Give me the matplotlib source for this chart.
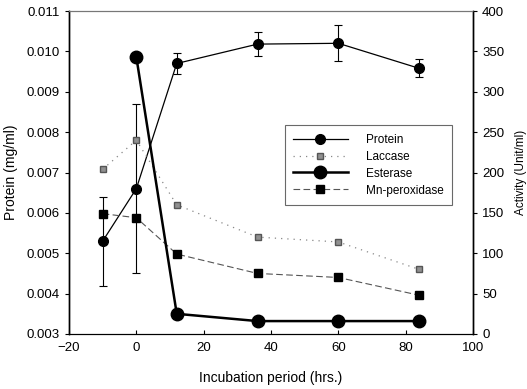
import numpy as np
import matplotlib
matplotlib.use("Agg")
import matplotlib.pyplot as plt
from matplotlib.lines import Line2D

plt.rcParams["font.family"] = ["Liberation Sans", "DejaVu Sans"]

hours = [-10, 0, 12, 36, 60, 84]
protein = [0.0053, 0.0066, 0.0097, 0.01018, 0.0102, 0.00958]
protein_err = [0.0011, 0.0021, 0.00027, 0.0003, 0.00045, 0.00022]

ester_hours = [0, 12, 36, 60, 84]
esterase = [343, 25, 16, 16, 16]
laccase = [204, 240, 160, 120, 114, 80]
mn_peroxidase = [149, 144, 99, 75, 70, 48]

fig = plt.figure(figsize=(5.27, 3.89), dpi=100)
ax = fig.add_axes([69 / 527, 1 - 334 / 389, 404 / 527, 323 / 389])
ax2 = ax.twinx()

ax.errorbar(hours, protein, yerr=protein_err, color="black", lw=0.9,
            marker="o", ms=7, capsize=3, elinewidth=0.8, capthick=0.8,
            zorder=5)
ax2.plot(hours, laccase, color="#888888", ls=(0, (1, 4)), lw=0.9,
         marker="s", ms=5, mfc="#909090", mec="#555555")
ax2.plot(hours, mn_peroxidase, color="#555555", ls=(0, (6, 3)), lw=0.8,
         marker="s", ms=6, mfc="black", mec="black")
ax2.plot(ester_hours, esterase, color="black", lw=1.8,
         marker="o", ms=9, mfc="black", mec="black")

ax.set_xlim(-20, 100)
ax.set_ylim(0.003, 0.011)
ax2.set_ylim(0, 400)
ax.set_xticks(np.arange(-20, 101, 20))
ax.set_yticks(np.arange(0.003, 0.0111, 0.001))
ax.yaxis.set_major_formatter(matplotlib.ticker.FormatStrFormatter("%.3f"))
ax2.set_yticks(np.arange(0, 401, 50))

ax.tick_params(axis="x", direction="in", length=3, labelsize=9.5, pad=6)
ax.tick_params(axis="y", direction="out", length=3, labelsize=9.5)
ax2.tick_params(axis="y", direction="out", length=3, labelsize=9.5)

for a in (ax, ax2):
    a.spines["top"].set_color("#777777")
    a.spines["top"].set_linestyle((0, (3, 1)))
    a.spines["top"].set_linewidth(0.8)
    a.spines["bottom"].set_linewidth(0.8)
    a.spines["left"].set_linewidth(1.0)
    a.spines["right"].set_linewidth(1.0)

ax.set_xlabel("Incubation period (hrs.)", fontsize=10, labelpad=12)
ax.set_ylabel("Protein (mg/ml)", fontsize=10, labelpad=6)
ax2.set_ylabel("Activity (Unit/ml)", fontsize=8.5, labelpad=8)

handles = [
    Line2D([], [], color="black", lw=0.9, marker="o", ms=7),
    Line2D([], [], color="#888888", ls=(0, (1, 4)), lw=0.9, marker="s",
           ms=5, mfc="#909090", mec="#555555"),
    Line2D([], [], color="black", lw=1.8, marker="o", ms=9),
    Line2D([], [], color="#555555", ls=(0, (6, 3)), lw=0.8, marker="s",
           ms=6, mfc="black", mec="black"),
]
labels = ["Protein", "Laccase", "Esterase", "Mn-peroxidase"]
leg = ax2.legend(handles, labels, loc="upper left",
                 bbox_to_anchor=(0.52, 0.664), fontsize=8.5,
                 frameon=True, fancybox=False, edgecolor="#444444",
                 handlelength=4.6, borderpad=0.7, labelspacing=0.42,
                 handletextpad=1.6)
leg.get_frame().set_linewidth(0.8)

fig.savefig("out.png", dpi=100)
